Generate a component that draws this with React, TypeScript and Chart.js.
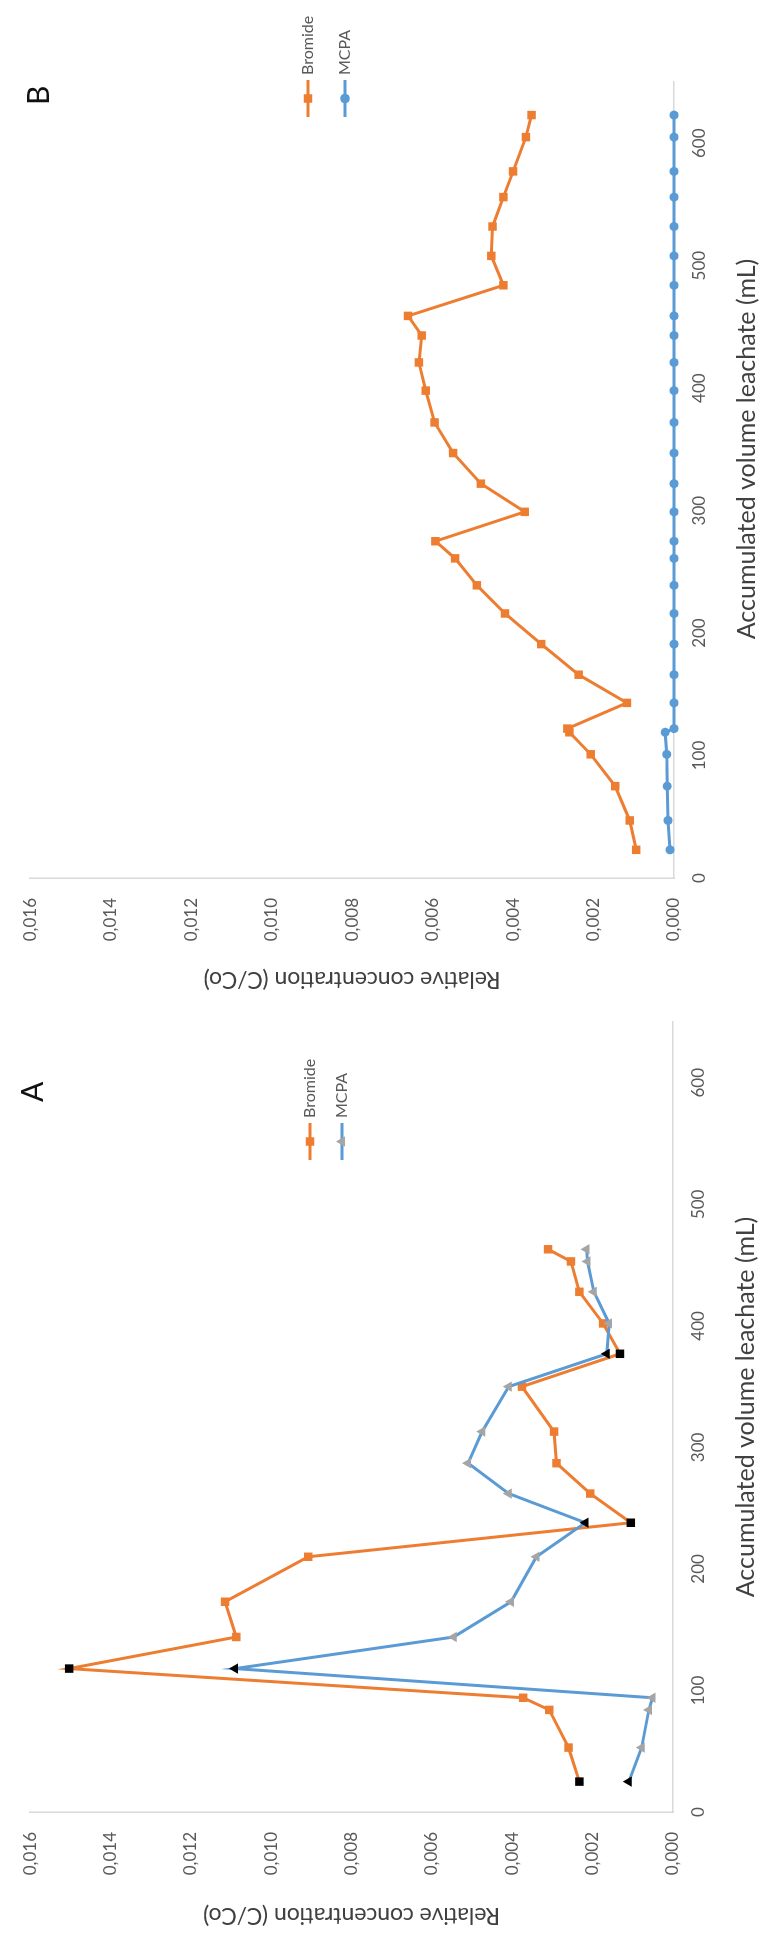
import React, { useEffect, useRef } from "react";
import { Chart, registerables } from "chart.js";

Chart.register(...registerables);

// ---------- Data ----------
// Panel A
const volumesA = [25, 53, 84, 94, 118, 144, 173, 210, 238, 262, 287, 313, 350, 377, 402, 428, 453, 463];
const bromideA = [0.00233, 0.0026, 0.00308, 0.00373, 0.01503, 0.01087, 0.01115, 0.00908, 0.00105, 0.00206, 0.0029, 0.00296, 0.00376, 0.00132, 0.00174, 0.00233, 0.00254, 0.00311];
const mcpaA = [0.0011, 0.00078, 0.0006, 0.00051, 0.0109, 0.00546, 0.00403, 0.0034, 0.00218, 0.00409, 0.0051, 0.00475, 0.00409, 0.00165, 0.00159, 0.00197, 0.00213, 0.00215];
const highlightA = [0, 4, 8, 13];

// Panel B
const volumesB = [23, 47, 75, 101, 119, 122, 143, 166, 191, 216, 239, 261, 275, 299, 322, 347, 372, 398, 421, 443, 459, 484, 508, 532, 556, 577, 605, 623];
const bromideB = [0.00094, 0.0011, 0.00146, 0.00207, 0.0026, 0.00265, 0.00117, 0.00237, 0.0033, 0.0042, 0.0049, 0.00544, 0.00593, 0.00371, 0.0048, 0.00549, 0.00595, 0.00617, 0.00634, 0.00627, 0.00661, 0.00424, 0.00454, 0.00451, 0.00424, 0.004, 0.00368, 0.00354];
const mcpaB = [0.0001, 0.00015, 0.00017, 0.00018, 0.00022, 0, 0, 0, 0, 0, 0, 0, 0, 0, 0, 0, 0, 0, 0, 0, 0, 0, 0, 0, 0, 0, 0, 0];

const xTicks = [0, 100, 200, 300, 400, 500, 600];
const yTicks = [0, 0.002, 0.004, 0.006, 0.008, 0.01, 0.012, 0.014, 0.016];
const seriesNames = ["Bromide", "MCPA"];

const xTitle = "Accumulated volume leachate (mL)";
const yTitle = "Relative concentration (C/Co)";

// ---------- Styles ----------
const ORANGE = "#ED7D31";
const BLUE = "#5B9BD5";
const GREY = "#A5A5A5";
const TEXT = "#595959";
const TITLE = "#404040";
const AXIS = "#D9D9D9";
const FONT = "Lato, 'Open Sans', sans-serif";
const H = 763;

type Layout = {
  W: number;
  plotLeft: number;
  plotRight: number;
  plotTop: number;
  plotBottom: number;
  xTitleX: number;
  xTitleY: number;
  letter: string;
  letterX: number;
  letterY: number;
  legLineStart: number;
  legLineEnd: number;
  legTextX: number;
  legRows: number[];
  mcpaMarker: string;
  mcpaMarkerColor: string;
};

function drawMarker(ctx: CanvasRenderingContext2D, style: string, x: number, y: number, r: number, color: string) {
  ctx.fillStyle = color;
  ctx.beginPath();
  if (style === "rect") {
    const s = r * Math.SQRT1_2;
    ctx.rect(x - s, y - s, 2 * s, 2 * s);
  } else if (style === "circle") {
    ctx.arc(x, y, r * 0.8, 0, Math.PI * 2);
  } else {
    ctx.moveTo(x, y - r);
    ctx.lineTo(x + r * 0.87, y + r * 0.5);
    ctx.lineTo(x - r * 0.87, y + r * 0.5);
    ctx.closePath();
  }
  ctx.fill();
}

function overlayPlugin(L: Layout) {
  return {
    id: "overlay",
    afterDraw(chart: any) {
      const ctx: CanvasRenderingContext2D = chart.ctx;
      ctx.save();
      // panel letter
      ctx.fillStyle = "#111";
      ctx.font = `30px ${FONT}`;
      ctx.textAlign = "left";
      ctx.textBaseline = "alphabetic";
      ctx.fillText(L.letter, L.letterX, L.letterY);
      // x axis title
      ctx.fillStyle = TITLE;
      ctx.font = `25px ${FONT}`;
      ctx.textAlign = "center";
      ctx.textBaseline = "middle";
      ctx.fillText(xTitle, L.xTitleX, L.xTitleY);
      // legend
      const colors = [ORANGE, BLUE];
      const markers = ["rect", L.mcpaMarker];
      const markerColors = [ORANGE, L.mcpaMarkerColor];
      ctx.font = `16px ${FONT}`;
      ctx.textAlign = "left";
      L.legRows.forEach((y, i) => {
        ctx.strokeStyle = colors[i];
        ctx.lineWidth = 3;
        ctx.beginPath();
        ctx.moveTo(L.legLineStart, y);
        ctx.lineTo(L.legLineEnd, y);
        ctx.stroke();
        drawMarker(ctx, markers[i], (L.legLineStart + L.legLineEnd) / 2, y, 6, markerColors[i]);
        ctx.fillStyle = TEXT;
        ctx.fillText(seriesNames[i], L.legTextX, y);
      });
      ctx.restore();
    },
  };
}

function buildConfig(L: Layout, volumes: number[], bro: number[], mcpa: number[], highlight: number[], mcpaStyle: string, mcpaColor: string) {
  const hl = (base: string) => (c: any) => (highlight.includes(c.dataIndex) ? "#000" : base);
  return {
    type: "scatter",
    data: {
      datasets: [
        {
          label: seriesNames[0],
          data: volumes.map((v, i) => ({ x: v, y: bro[i] })),
          showLine: true,
          borderColor: ORANGE,
          backgroundColor: ORANGE,
          borderWidth: 3,
          pointStyle: "rect",
          pointRadius: 6,
          pointBorderWidth: 0,
          pointBackgroundColor: hl(ORANGE),
          pointBorderColor: hl(ORANGE),
          clip: false,
          order: 2,
        },
        {
          label: seriesNames[1],
          data: volumes.map((v, i) => ({ x: v, y: mcpa[i] })),
          showLine: true,
          borderColor: BLUE,
          backgroundColor: mcpaColor,
          borderWidth: 3,
          pointStyle: mcpaStyle,
          pointRadius: mcpaStyle === "circle" ? 4.5 : 6,
          pointBorderWidth: 0,
          pointBackgroundColor: hl(mcpaColor),
          pointBorderColor: hl(mcpaColor),
          clip: false,
          order: 1,
        },
      ],
    },
    options: {
      animation: false,
      responsive: false,
      devicePixelRatio: 1,
      font: { family: FONT },
      layout: { padding: { left: 0, right: L.W - L.plotRight, top: L.plotTop, bottom: 0 } },
      plugins: { legend: { display: false }, tooltip: { enabled: false } },
      scales: {
        x: {
          type: "linear",
          min: 0,
          max: 650,
          afterBuildTicks: (s: any) => {
            s.ticks = xTicks.map((v) => ({ value: v }));
          },
          afterFit: (s: any) => {
            s.height = H - L.plotBottom;
          },
          grid: { display: false, drawTicks: false },
          border: { display: true, color: AXIS, width: 1.5 },
          ticks: { padding: 15, color: TEXT, font: { family: FONT, size: 17 }, maxRotation: 0, autoSkip: false },
        },
        y: {
          type: "linear",
          min: 0,
          max: 0.016,
          afterBuildTicks: (s: any) => {
            s.ticks = yTicks.map((v) => ({ value: v }));
          },
          afterFit: (s: any) => {
            s.width = L.plotLeft;
          },
          grid: { display: false, drawTicks: false },
          border: { display: true, color: AXIS, width: 1.5 },
          ticks: {
            padding: 20,
            color: TEXT,
            font: { family: FONT, size: 17 },
            callback: (v: any) => Number(v).toFixed(3).replace(".", ","),
          },
          title: {
            display: true,
            text: yTitle,
            color: TITLE,
            font: { family: FONT, size: 23 },
            padding: { top: 7, bottom: 0 },
          },
        },
      },
    },
    plugins: [overlayPlugin(L)],
  };
}

const layoutB: Layout = {
  W: 1000,
  plotLeft: 122,
  plotRight: 918,
  plotTop: 18,
  plotBottom: 674,
  xTitleX: 551,
  xTitleY: 747,
  letter: "B",
  letterX: 895,
  letterY: 49,
  legLineStart: 883,
  legLineEnd: 920,
  legTextX: 925,
  legRows: [308, 345],
  mcpaMarker: "circle",
  mcpaMarkerColor: BLUE,
};

const layoutA: Layout = {
  W: 936,
  plotLeft: 124,
  plotRight: 914,
  plotTop: 20,
  plotBottom: 673,
  xTitleX: 529,
  xTitleY: 746,
  letter: "A",
  letterX: 834,
  letterY: 43,
  legLineStart: 776,
  legLineEnd: 813,
  legTextX: 818,
  legRows: [310, 342],
  mcpaMarker: "triangle",
  mcpaMarkerColor: GREY,
};

function Panel({ top, L, make }: { top: number; L: Layout; make: () => any }) {
  const ref = useRef<HTMLCanvasElement | null>(null);
  useEffect(() => {
    if (!ref.current) return;
    const chart = new Chart(ref.current, make());
    return () => chart.destroy();
  }, []);
  return (
    <div
      style={{
        position: "absolute",
        left: 0,
        top,
        width: L.W,
        height: H,
        transformOrigin: "0 0",
        transform: `translate(0px, ${L.W}px) rotate(-90deg)`,
      }}
    >
      <canvas ref={ref} width={L.W} height={H} style={{ display: "block", width: L.W, height: H }} />
    </div>
  );
}

export default function App() {
  return (
    <div style={{ position: "absolute", left: 0, top: 0, width: 763, height: 1936, overflow: "hidden", background: "#fff" }}>
      <Panel top={0} L={layoutB} make={() => buildConfig(layoutB, volumesB, bromideB, mcpaB, [], "circle", BLUE)} />
      <Panel top={1000} L={layoutA} make={() => buildConfig(layoutA, volumesA, bromideA, mcpaA, highlightA, "triangle", GREY)} />
    </div>
  );
}
